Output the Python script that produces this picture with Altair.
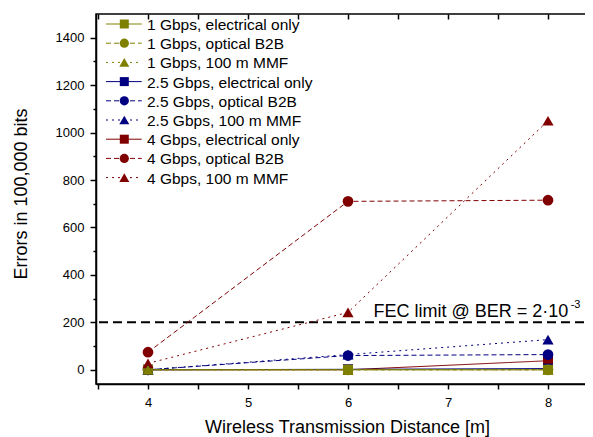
import altair as alt
import pandas as pd

# ---------------- data ----------------
distance = [4, 6, 8]
series_names = [
    "1 Gbps, electrical only", "1 Gbps, optical B2B", "1 Gbps, 100 m MMF",
    "2.5 Gbps, electrical only", "2.5 Gbps, optical B2B", "2.5 Gbps, 100 m MMF",
    "4 Gbps, electrical only", "4 Gbps, optical B2B", "4 Gbps, 100 m MMF",
]
err_1g_elec = [0, 0, 0]
err_1g_b2b = [0, 0, 0]
err_1g_mmf = [0, 0, 0]
err_25g_elec = [0, 2, 5]
err_25g_b2b = [0, 60, 64]
err_25g_mmf = [0, 64, 127]
err_4g_elec = [0, 0, 38]
err_4g_b2b = [74, 710, 715]
err_4g_mmf = [27, 242, 1050]
series_values = [err_1g_elec, err_1g_b2b, err_1g_mmf,
                 err_25g_elec, err_25g_b2b, err_25g_mmf,
                 err_4g_elec, err_4g_b2b, err_4g_mmf]

fec_limit = [200]
fec_label = ["FEC limit @ BER = 2\u00b710"]
fec_exponent = ["-3"]
fec_label_pos = [8.203, 222]      # x (m), y (errors) of label right end / baseline
fec_exp_pos = [8.227, 261]

x_ticks = [3.5, 4, 4.5, 5, 5.5, 6, 6.5, 7, 7.5, 8, 8.5]
y_ticks = list(range(0, 1500, 100))

# ---------------- styles ----------------
series_colors = ["#808000"] * 3 + ["#000080"] * 3 + ["#800000"] * 3
series_dash = [[1, 0], [5, 3], [2, 4]] * 3
FONT = "Liberation Sans"

# (shape, size in plot, size in legend, members)
marker_groups = [
    ("square", 100, 81, series_names[0::3]),
    ("circle", 115, 85, series_names[1::3]),
    ("triangle-up", 125, 100, series_names[2::3]),
]

# legend geometry (pixels inside the plot area)
LEG_ROWS = [10, 163.6]          # first / last row centre
LEG_LINE = [10, 45.7]           # sample line start / end
LEG_MARK = 28.3                 # marker centre
LEG_TEXT = 51                   # label start

# ---------------- tables ----------------
rows = []
order = 0
for i in reversed(range(len(series_names))):
    for d, v in zip(distance, series_values[i]):
        rows.append({"dist": d, "errors": v, "series": series_names[i], "z": order})
        order += 1
df = pd.DataFrame(rows)
leg_df = pd.DataFrame({"series": series_names})

xs = alt.Scale(domain=[3.48, 8.5], nice=False, zero=False)
ys = alt.Scale(domain=[-60, 1500], nice=False, zero=False)
leg_ys = alt.Scale(type="point", domain=series_names, range=LEG_ROWS, padding=0)

major_x = "datum.value % 1 === 0"
major_y = "datum.value % 200 === 0"

common_axis = dict(domainColor="black", domainWidth=1.5, tickColor="black",
                   tickWidth=1.5, grid=False, labelFont=FONT, titleFont=FONT,
                   labelColor="black", titleColor="black")

bottom_axis = alt.Axis(
    orient="bottom", values=x_ticks,
    labelExpr=f"{major_x} ? format(datum.value, 'd') : ''",
    tickSize=5,
    labelFontSize=13, labelBaseline="alphabetic", labelPadding=17,
    labelFlush=False, labelOverlap=False,
    title="Wireless Transmission Distance [m]", titleFontSize=18,
    titleFontWeight="normal", titleBaseline="alphabetic", titleY=48,
    **common_axis)
left_axis = alt.Axis(
    orient="left", values=y_ticks,
    labelExpr=f"{major_y} ? format(datum.value, 'd') : ''",
    tickSize={"condition": {"test": major_y, "value": 6}, "value": 3},
    labelFontSize=13, labelPadding=6, labelFlush=False, labelOverlap=False,
    title="Errors in 100,000 bits", titleFontSize=18, titleFontWeight="normal",
    titleAngle=270, titleBaseline="alphabetic", titleX=-69.5, titleY=179.5,
    **common_axis)
top_axis = alt.Axis(
    orient="top", values=x_ticks, labels=False, title=None, domain=False,
    tickSize=5, offset=-5, **{k: v for k, v in common_axis.items() if not k.startswith("domain")})
right_axis = alt.Axis(
    orient="right", values=y_ticks, labels=False, title=None, domain=False,
    tickSize=5, offset=-5, **{k: v for k, v in common_axis.items() if not k.startswith("domain")})

color_enc = alt.Color("series:N", scale=alt.Scale(domain=series_names, range=series_colors), legend=None)
dash_enc = alt.StrokeDash("series:N", scale=alt.Scale(domain=series_names, range=series_dash), legend=None)

lines = alt.Chart(df).mark_line(strokeWidth=1).encode(
    x=alt.X("dist:Q", scale=xs, axis=bottom_axis),
    y=alt.Y("errors:Q", scale=ys, axis=left_axis),
    color=color_enc,
    strokeDash=dash_enc,
    detail="series:N",
)

point_layers = []
legend_marks = []
for shp, sz, lsz, members in marker_groups:
    point_layers.append(
        alt.Chart(df).transform_filter(
            alt.FieldOneOfPredicate(field="series", oneOf=members)
        ).mark_point(shape=shp, size=sz, filled=True, opacity=1, strokeWidth=0).encode(
            x=alt.X("dist:Q", scale=xs, axis=None),
            y=alt.Y("errors:Q", scale=ys, axis=None),
            color=color_enc,
            order=alt.Order("z:Q"),
        )
    )
    legend_marks.append(
        alt.Chart(leg_df).transform_filter(
            alt.FieldOneOfPredicate(field="series", oneOf=members)
        ).mark_point(shape=shp, size=lsz, filled=True, opacity=1, strokeWidth=0).encode(
            x=alt.value(LEG_MARK),
            y=alt.Y("series:N", scale=leg_ys, axis=None),
            color=color_enc,
        )
    )

legend_lines = alt.Chart(leg_df).mark_rule(strokeWidth=1).encode(
    x=alt.value(LEG_LINE[0]), x2=alt.value(LEG_LINE[1]),
    y=alt.Y("series:N", scale=leg_ys, axis=None),
    color=color_enc,
    strokeDash=dash_enc,
)
legend_text = alt.Chart(leg_df).mark_text(
    align="left", baseline="middle", fontSize=15.5, font=FONT, color="black", dy=1
).encode(
    x=alt.value(LEG_TEXT),
    y=alt.Y("series:N", scale=leg_ys, axis=None),
    text="series:N",
)

fec_rule = alt.Chart(pd.DataFrame({"y": fec_limit})).mark_rule(
    color="black", strokeWidth=2, strokeDash=[9, 5]
).encode(y=alt.Y("y:Q", scale=ys, axis=None))

fec_text = alt.Chart(pd.DataFrame({"x": [fec_label_pos[0]], "y": [fec_label_pos[1]], "t": fec_label})).mark_text(
    align="right", baseline="alphabetic", fontSize=18, font=FONT, color="black"
).encode(
    x=alt.X("x:Q", scale=xs, axis=top_axis),
    y=alt.Y("y:Q", scale=ys, axis=right_axis),
    text="t:N",
)
fec_sup = alt.Chart(pd.DataFrame({"x": [fec_exp_pos[0]], "y": [fec_exp_pos[1]], "t": fec_exponent})).mark_text(
    align="left", baseline="alphabetic", fontSize=11, font=FONT, color="black"
).encode(
    x=alt.X("x:Q", scale=xs, axis=None),
    y=alt.Y("y:Q", scale=ys, axis=None),
    text="t:N",
)

chart = alt.layer(
    fec_rule, lines, *point_layers, fec_text, fec_sup,
    legend_lines, *legend_marks, legend_text,
).resolve_scale(y="independent").resolve_axis(
    x="independent", y="independent"
).properties(
    width=502, height=370,
    padding={"left": 88, "top": 6, "right": -13, "bottom": 53},
    autosize=alt.AutoSizeParams(type="none"),
    background="white",
).configure_view(stroke="black", strokeWidth=1.5)

chart.save("out.html", embed_options={"renderer": "svg", "actions": False})
